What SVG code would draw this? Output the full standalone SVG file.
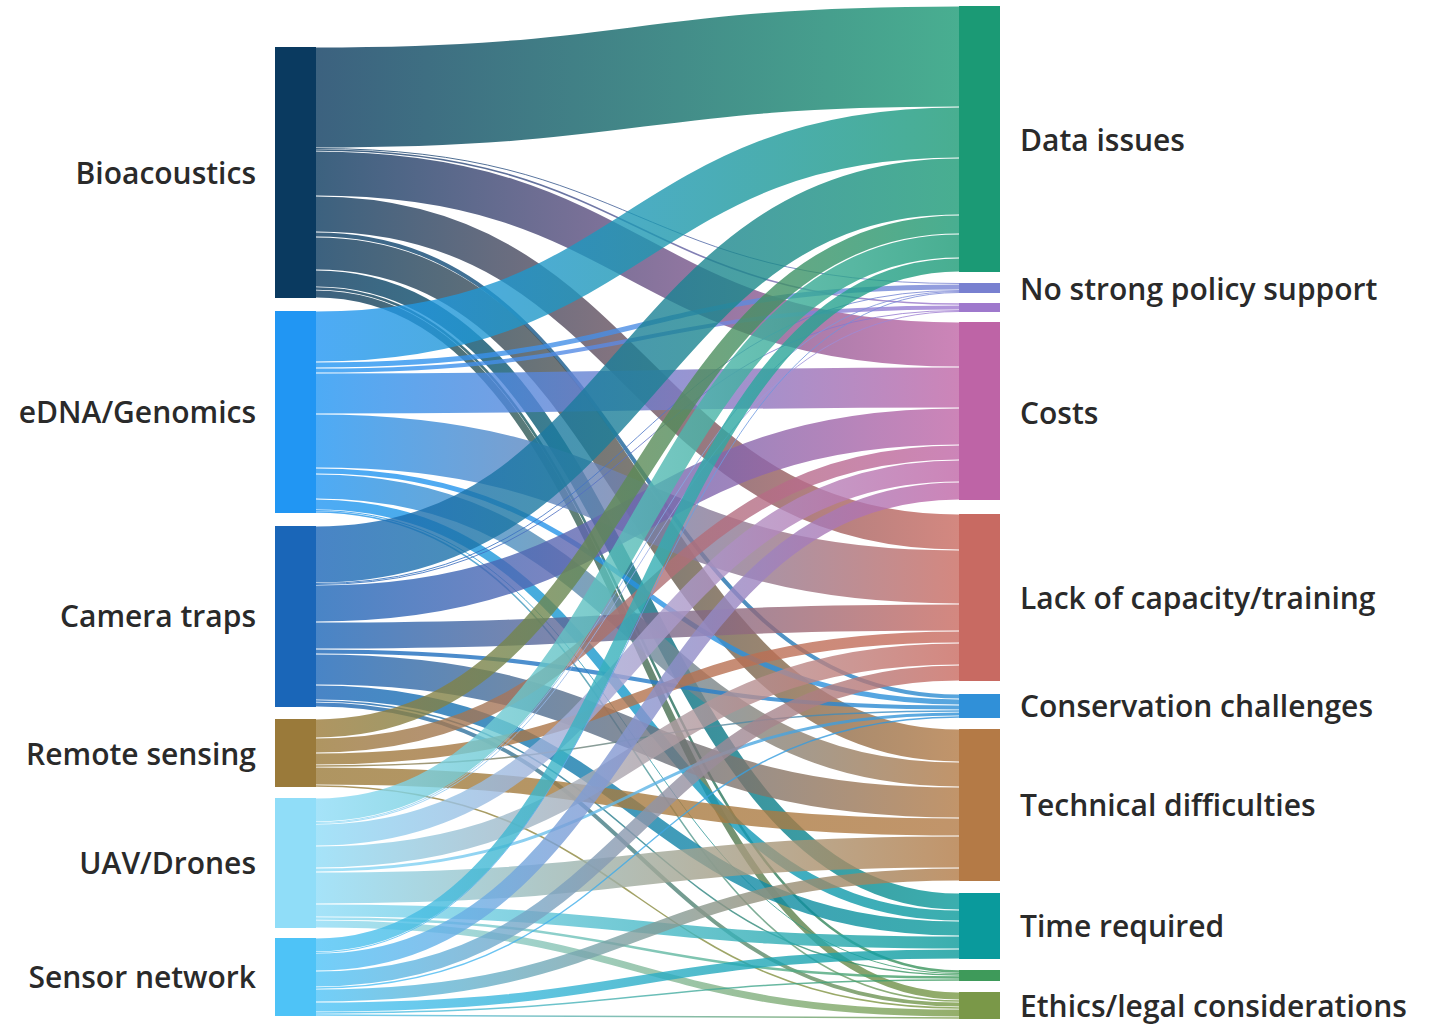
<svg xmlns="http://www.w3.org/2000/svg" width="1440" height="1025" viewBox="0 0 1440 1025">
<style>
.lbl{font-family:"Open Sans","Liberation Sans",sans-serif;font-weight:600;font-size:30px;fill:#2a2a2a}
.l{text-anchor:end}
#links path{fill:none;stroke-opacity:0.8}
stop.b{stop-color:#0b3a5f}stop.e{stop-color:#2196f3}stop.c{stop-color:#1b66b8}stop.r{stop-color:#9b7b3a}stop.u{stop-color:#8fdcf7}stop.s{stop-color:#4fc3f7}
stop.D{stop-color:#1b9a75}stop.N{stop-color:#7a84d4}stop.P{stop-color:#a07ad0}stop.C{stop-color:#c066a6}stop.L{stop-color:#c96a60}stop.K{stop-color:#2d8fd6}stop.T{stop-color:#b27a45}stop.I{stop-color:#0a9a9a}stop.G{stop-color:#3d9a5c}stop.E{stop-color:#7a9a45}
</style>
<defs>
<linearGradient id="base" gradientUnits="userSpaceOnUse" x1="316" y1="0" x2="959" y2="0"/>
<linearGradient id="bD" href="#base"><stop offset="0" class="b"/><stop offset="1" class="D"/></linearGradient>
<linearGradient id="bN" href="#base"><stop offset="0" class="b"/><stop offset="1" class="N"/></linearGradient>
<linearGradient id="bP" href="#base"><stop offset="0" class="b"/><stop offset="1" class="P"/></linearGradient>
<linearGradient id="bC" href="#base"><stop offset="0" class="b"/><stop offset="1" class="C"/></linearGradient>
<linearGradient id="bL" href="#base"><stop offset="0" class="b"/><stop offset="1" class="L"/></linearGradient>
<linearGradient id="bK" href="#base"><stop offset="0" class="b"/><stop offset="1" class="K"/></linearGradient>
<linearGradient id="bT" href="#base"><stop offset="0" class="b"/><stop offset="1" class="T"/></linearGradient>
<linearGradient id="bI" href="#base"><stop offset="0" class="b"/><stop offset="1" class="I"/></linearGradient>
<linearGradient id="bG" href="#base"><stop offset="0" class="b"/><stop offset="1" class="G"/></linearGradient>
<linearGradient id="bE" href="#base"><stop offset="0" class="b"/><stop offset="1" class="E"/></linearGradient>
<linearGradient id="eD" href="#base"><stop offset="0" class="e"/><stop offset="1" class="D"/></linearGradient>
<linearGradient id="eN" href="#base"><stop offset="0" class="e"/><stop offset="1" class="N"/></linearGradient>
<linearGradient id="eP" href="#base"><stop offset="0" class="e"/><stop offset="1" class="P"/></linearGradient>
<linearGradient id="eC" href="#base"><stop offset="0" class="e"/><stop offset="1" class="C"/></linearGradient>
<linearGradient id="eL" href="#base"><stop offset="0" class="e"/><stop offset="1" class="L"/></linearGradient>
<linearGradient id="eK" href="#base"><stop offset="0" class="e"/><stop offset="1" class="K"/></linearGradient>
<linearGradient id="eT" href="#base"><stop offset="0" class="e"/><stop offset="1" class="T"/></linearGradient>
<linearGradient id="eI" href="#base"><stop offset="0" class="e"/><stop offset="1" class="I"/></linearGradient>
<linearGradient id="eG" href="#base"><stop offset="0" class="e"/><stop offset="1" class="G"/></linearGradient>
<linearGradient id="eE" href="#base"><stop offset="0" class="e"/><stop offset="1" class="E"/></linearGradient>
<linearGradient id="cD" href="#base"><stop offset="0" class="c"/><stop offset="1" class="D"/></linearGradient>
<linearGradient id="cN" href="#base"><stop offset="0" class="c"/><stop offset="1" class="N"/></linearGradient>
<linearGradient id="cP" href="#base"><stop offset="0" class="c"/><stop offset="1" class="P"/></linearGradient>
<linearGradient id="cC" href="#base"><stop offset="0" class="c"/><stop offset="1" class="C"/></linearGradient>
<linearGradient id="cL" href="#base"><stop offset="0" class="c"/><stop offset="1" class="L"/></linearGradient>
<linearGradient id="cK" href="#base"><stop offset="0" class="c"/><stop offset="1" class="K"/></linearGradient>
<linearGradient id="cT" href="#base"><stop offset="0" class="c"/><stop offset="1" class="T"/></linearGradient>
<linearGradient id="cI" href="#base"><stop offset="0" class="c"/><stop offset="1" class="I"/></linearGradient>
<linearGradient id="cG" href="#base"><stop offset="0" class="c"/><stop offset="1" class="G"/></linearGradient>
<linearGradient id="cE" href="#base"><stop offset="0" class="c"/><stop offset="1" class="E"/></linearGradient>
<linearGradient id="rD" href="#base"><stop offset="0" class="r"/><stop offset="1" class="D"/></linearGradient>
<linearGradient id="rC" href="#base"><stop offset="0" class="r"/><stop offset="1" class="C"/></linearGradient>
<linearGradient id="rL" href="#base"><stop offset="0" class="r"/><stop offset="1" class="L"/></linearGradient>
<linearGradient id="rK" href="#base"><stop offset="0" class="r"/><stop offset="1" class="K"/></linearGradient>
<linearGradient id="rT" href="#base"><stop offset="0" class="r"/><stop offset="1" class="T"/></linearGradient>
<linearGradient id="rE" href="#base"><stop offset="0" class="r"/><stop offset="1" class="E"/></linearGradient>
<linearGradient id="uD" href="#base"><stop offset="0" class="u"/><stop offset="1" class="D"/></linearGradient>
<linearGradient id="uN" href="#base"><stop offset="0" class="u"/><stop offset="1" class="N"/></linearGradient>
<linearGradient id="uP" href="#base"><stop offset="0" class="u"/><stop offset="1" class="P"/></linearGradient>
<linearGradient id="uC" href="#base"><stop offset="0" class="u"/><stop offset="1" class="C"/></linearGradient>
<linearGradient id="uL" href="#base"><stop offset="0" class="u"/><stop offset="1" class="L"/></linearGradient>
<linearGradient id="uK" href="#base"><stop offset="0" class="u"/><stop offset="1" class="K"/></linearGradient>
<linearGradient id="uT" href="#base"><stop offset="0" class="u"/><stop offset="1" class="T"/></linearGradient>
<linearGradient id="uI" href="#base"><stop offset="0" class="u"/><stop offset="1" class="I"/></linearGradient>
<linearGradient id="uG" href="#base"><stop offset="0" class="u"/><stop offset="1" class="G"/></linearGradient>
<linearGradient id="uE" href="#base"><stop offset="0" class="u"/><stop offset="1" class="E"/></linearGradient>
<linearGradient id="sD" href="#base"><stop offset="0" class="s"/><stop offset="1" class="D"/></linearGradient>
<linearGradient id="sN" href="#base"><stop offset="0" class="s"/><stop offset="1" class="N"/></linearGradient>
<linearGradient id="sC" href="#base"><stop offset="0" class="s"/><stop offset="1" class="C"/></linearGradient>
<linearGradient id="sL" href="#base"><stop offset="0" class="s"/><stop offset="1" class="L"/></linearGradient>
<linearGradient id="sK" href="#base"><stop offset="0" class="s"/><stop offset="1" class="K"/></linearGradient>
<linearGradient id="sT" href="#base"><stop offset="0" class="s"/><stop offset="1" class="T"/></linearGradient>
<linearGradient id="sI" href="#base"><stop offset="0" class="s"/><stop offset="1" class="I"/></linearGradient>
<linearGradient id="sG" href="#base"><stop offset="0" class="s"/><stop offset="1" class="G"/></linearGradient>
<linearGradient id="sE" href="#base"><stop offset="0" class="s"/><stop offset="1" class="E"/></linearGradient>
</defs>
<rect width="1440" height="1025" fill="#ffffff"/>
<g id="links">
<path d="M316,97.5C637.5,97.5 637.5,56.5 959,56.5" stroke="url(#bD)" stroke-width="100"/>
<path d="M316,148.5C637.5,148.5 637.5,283.5 959,283.5" stroke="url(#bN)" stroke-width="1"/>
<path d="M316,150C637.5,150 637.5,304 959,304" stroke="url(#bP)" stroke-width="1.5"/>
<path d="M316,173.5C637.5,173.5 637.5,344.5 959,344.5" stroke="url(#bC)" stroke-width="44"/>
<path d="M316,214C637.5,214 637.5,532 959,532" stroke="url(#bL)" stroke-width="35"/>
<path d="M316,234.5C637.5,234.5 637.5,696.5 959,696.5" stroke="url(#bK)" stroke-width="4"/>
<path d="M316,253.5C637.5,253.5 637.5,745.5 959,745.5" stroke="url(#bT)" stroke-width="32"/>
<path d="M316,278.5C637.5,278.5 637.5,901.5 959,901.5" stroke="url(#bI)" stroke-width="16"/>
<path d="M316,288.5C637.5,288.5 637.5,971.5 959,971.5" stroke="url(#bG)" stroke-width="2.5"/>
<path d="M316,294C637.5,294 637.5,996 959,996" stroke="url(#bE)" stroke-width="7"/>
<path d="M316,336.5C637.5,336.5 637.5,132.5 959,132.5" stroke="url(#eD)" stroke-width="50"/>
<path d="M316,365C637.5,365 637.5,287 959,287" stroke="url(#eN)" stroke-width="5"/>
<path d="M316,370.5C637.5,370.5 637.5,307.5 959,307.5" stroke="url(#eP)" stroke-width="4"/>
<path d="M316,393.5C637.5,393.5 637.5,387.5 959,387.5" stroke="url(#eC)" stroke-width="40"/>
<path d="M316,441C637.5,441 637.5,577 959,577" stroke="url(#eL)" stroke-width="53"/>
<path d="M316,471C637.5,471 637.5,702 959,702" stroke="url(#eK)" stroke-width="5"/>
<path d="M316,486.5C637.5,486.5 637.5,774.5 959,774.5" stroke="url(#eT)" stroke-width="24"/>
<path d="M316,504.5C637.5,504.5 637.5,915.5 959,915.5" stroke="url(#eI)" stroke-width="10"/>
<path d="M316,510.5C637.5,510.5 637.5,973.5 959,973.5" stroke="url(#eG)" stroke-width="1"/>
<path d="M316,512C637.5,512 637.5,1001 959,1001" stroke="url(#eE)" stroke-width="1.5"/>
<path d="M316,554.5C637.5,554.5 637.5,186.5 959,186.5" stroke="url(#cD)" stroke-width="56"/>
<path d="M316,583.5C637.5,583.5 637.5,290.5 959,290.5" stroke="url(#cN)" stroke-width="1"/>
<path d="M316,584.5C637.5,584.5 637.5,310.5 959,310.5" stroke="url(#cP)" stroke-width="1"/>
<path d="M316,603.5C637.5,603.5 637.5,426.5 959,426.5" stroke="url(#cC)" stroke-width="36"/>
<path d="M316,635.5C637.5,635.5 637.5,617.5 959,617.5" stroke="url(#cL)" stroke-width="26"/>
<path d="M316,651.5C637.5,651.5 637.5,707.5 959,707.5" stroke="url(#cK)" stroke-width="4"/>
<path d="M316,669.5C637.5,669.5 637.5,802.5 959,802.5" stroke="url(#cT)" stroke-width="30"/>
<path d="M316,692.5C637.5,692.5 637.5,928.5 959,928.5" stroke="url(#cI)" stroke-width="14"/>
<path d="M316,701C637.5,701 637.5,975 959,975" stroke="url(#cG)" stroke-width="1.5"/>
<path d="M316,704.5C637.5,704.5 637.5,1004.5 959,1004.5" stroke="url(#cE)" stroke-width="4"/>
<path d="M316,728.5C637.5,728.5 637.5,224.5 959,224.5" stroke="url(#rD)" stroke-width="18"/>
<path d="M316,745.5C637.5,745.5 637.5,452.5 959,452.5" stroke="url(#rC)" stroke-width="14"/>
<path d="M316,759C637.5,759 637.5,637 959,637" stroke="url(#rL)" stroke-width="11"/>
<path d="M316,766C637.5,766 637.5,711 959,711" stroke="url(#rK)" stroke-width="1.5"/>
<path d="M316,776C637.5,776 637.5,827 959,827" stroke="url(#rT)" stroke-width="17"/>
<path d="M316,786C637.5,786 637.5,1008 959,1008" stroke="url(#rE)" stroke-width="1.5"/>
<path d="M316,810C637.5,810 637.5,246 959,246" stroke="url(#uD)" stroke-width="23"/>
<path d="M316,822.5C637.5,822.5 637.5,291.5 959,291.5" stroke="url(#uN)" stroke-width="1"/>
<path d="M316,823.5C637.5,823.5 637.5,311.5 959,311.5" stroke="url(#uP)" stroke-width="1"/>
<path d="M316,835C637.5,835 637.5,471 959,471" stroke="url(#uC)" stroke-width="21"/>
<path d="M316,857C637.5,857 637.5,654 959,654" stroke="url(#uL)" stroke-width="21"/>
<path d="M316,870C637.5,870 637.5,714 959,714" stroke="url(#uK)" stroke-width="3"/>
<path d="M316,888C637.5,888 637.5,852 959,852" stroke="url(#uT)" stroke-width="31"/>
<path d="M316,910.5C637.5,910.5 637.5,942.5 959,942.5" stroke="url(#uI)" stroke-width="12"/>
<path d="M316,918.5C637.5,918.5 637.5,977.5 959,977.5" stroke="url(#uG)" stroke-width="2.5"/>
<path d="M316,924C637.5,924 637.5,1013 959,1013" stroke="url(#uE)" stroke-width="7"/>
<path d="M316,945C637.5,945 637.5,265 959,265" stroke="url(#sD)" stroke-width="13"/>
<path d="M316,952.5C637.5,952.5 637.5,292.5 959,292.5" stroke="url(#sN)" stroke-width="1"/>
<path d="M316,962C637.5,962 637.5,491 959,491" stroke="url(#sC)" stroke-width="17"/>
<path d="M316,979C637.5,979 637.5,673 959,673" stroke="url(#sL)" stroke-width="15"/>
<path d="M316,988C637.5,988 637.5,717 959,717" stroke="url(#sK)" stroke-width="1.5"/>
<path d="M316,995.5C637.5,995.5 637.5,874.5 959,874.5" stroke="url(#sT)" stroke-width="12"/>
<path d="M316,1007C637.5,1007 637.5,954 959,954" stroke="url(#sI)" stroke-width="9"/>
<path d="M316,1013C637.5,1013 637.5,980 959,980" stroke="url(#sG)" stroke-width="1.5"/>
<path d="M316,1015C637.5,1015 637.5,1018 959,1018" stroke="url(#sE)" stroke-width="1.5"/>
</g>
<g id="node-bioacoustics"><rect x="275" y="47" width="41" height="251" fill="#0a3a60"/><text class="lbl l" x="256" y="184">Bioacoustics</text></g>
<g id="node-edna"><rect x="275" y="311" width="41" height="202" fill="#2196f3"/><text class="lbl l" x="256" y="423">eDNA/Genomics</text></g>
<g id="node-camera"><rect x="275" y="526" width="41" height="181" fill="#1a66b8"/><text class="lbl l" x="256" y="627">Camera traps</text></g>
<g id="node-remote"><rect x="275" y="719" width="41" height="68" fill="#9a7a3a"/><text class="lbl l" x="256" y="765">Remote sensing</text></g>
<g id="node-uav"><rect x="275" y="798" width="41" height="130" fill="#90ddf8"/><text class="lbl l" x="256" y="874">UAV/Drones</text></g>
<g id="node-sensor"><rect x="275" y="938" width="41" height="78" fill="#4ec3f7"/><text class="lbl l" x="256" y="988">Sensor network</text></g>
<g id="node-data"><rect x="959" y="6" width="41" height="266" fill="#1b9a75"/><text class="lbl" x="1020" y="151">Data issues</text></g>
<g id="node-policy"><rect x="959" y="283" width="41" height="10" fill="#7880d0"/><text class="lbl" x="1020" y="300">No strong policy support</text></g>
<g id="node-policy2"><rect x="959" y="303" width="41" height="9" fill="#9e78cc"/></g>
<g id="node-costs"><rect x="959" y="322" width="41" height="178" fill="#be64a6"/><text class="lbl" x="1020" y="424">Costs</text></g>
<g id="node-capacity"><rect x="959" y="514" width="41" height="167" fill="#c86a62"/><text class="lbl" x="1020" y="609">Lack of capacity/training</text></g>
<g id="node-conservation"><rect x="959" y="694" width="41" height="24" fill="#3090d8"/><text class="lbl" x="1020" y="717">Conservation challenges</text></g>
<g id="node-technical"><rect x="959" y="729" width="41" height="152" fill="#b47a46"/><text class="lbl" x="1020" y="816">Technical difficulties</text></g>
<g id="node-time"><rect x="959" y="893" width="41" height="66" fill="#0a9a9c"/><text class="lbl" x="1020" y="937">Time required</text></g>
<g id="node-green"><rect x="959" y="970" width="41" height="11" fill="#3e9a5a"/></g>
<g id="node-ethics"><rect x="959" y="992" width="41" height="27" fill="#7a9848"/><text class="lbl" x="1020" y="1017">Ethics/legal considerations</text></g>
</svg>
